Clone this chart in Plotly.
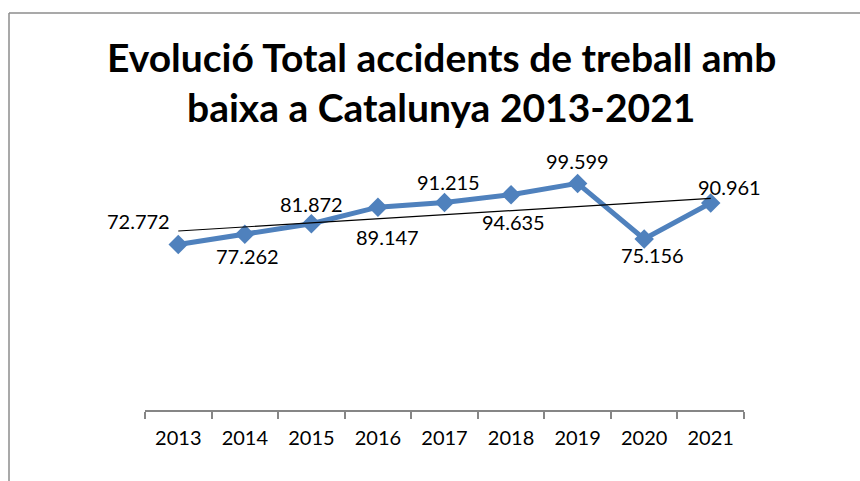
import numpy as np
import plotly.graph_objects as go

years = ["2013", "2014", "2015", "2016", "2017", "2018", "2019", "2020", "2021"]
values = [72.772, 77.262, 81.872, 89.147, 91.215, 94.635, 99.599, 75.156, 90.961]
labels = ["72.772", "77.262", "81.872", "89.147", "91.215", "94.635", "99.599", "75.156", "90.961"]
title_lines = ["Evolució Total accidents de treball amb", "baixa a Catalunya 2013-2021"]

W, H = 860, 481
L, R, T, B = 145, 744, 137, 410  # plot area in pixels


def px(x):
    return (x - L) / (R - L)


def py(y):
    return (B - y) / (B - T)


idx = np.arange(len(values))
slope, intercept = np.polyfit(idx, values, 1)
trend = slope * idx + intercept

fig = go.Figure()
fig.add_trace(go.Scatter(
    x=years, y=values, mode="lines+markers",
    line=dict(color="#4F81BD", width=5),
    marker=dict(symbol="diamond", size=15, color="#4F81BD"),
    hoverinfo="skip", showlegend=False, cliponaxis=False,
))
fig.add_trace(go.Scatter(
    x=[years[0], years[-1]], y=[trend[0], trend[-1]], mode="lines",
    line=dict(color="black", width=1.2),
    hoverinfo="skip", showlegend=False,
))

shifts = [(-40, 23), (3, -22), (0, 20), (10, -30), (4, 20), (2, -27), (0, 22), (8, -16), (19, 16)]
annotations = []
for i, (v, lab, (dx, dy)) in enumerate(zip(values, labels, shifts)):
    annotations.append(dict(
        x=i, y=v, xref="x", yref="y", text=lab, showarrow=False,
        xshift=dx, yshift=dy, font=dict(family="Lato", size=20, color="black"),
    ))

for line, yc in zip(title_lines, [57, 107]):
    annotations.append(dict(
        x=px(441), y=py(yc), xref="paper", yref="paper", text="<b>%s</b>" % line,
        showarrow=False, xanchor="center", yanchor="middle",
        font=dict(family="Lato", size=39, color="black"),
    ))

shapes = [
    dict(type="line", xref="paper", yref="paper", x0=px(9), x1=px(862), y0=py(13), y1=py(13),
         line=dict(color="#8C8C8C", width=1.5)),
    dict(type="line", xref="paper", yref="paper", x0=px(9), x1=px(9), y0=py(13), y1=py(483),
         line=dict(color="#8C8C8C", width=1.5)),
]

fig.update_layout(
    width=W, height=H,
    margin=dict(l=L, r=W - R, t=T, b=H - B),
    paper_bgcolor="white", plot_bgcolor="white",
    annotations=annotations, shapes=shapes,
    xaxis=dict(
        type="category", range=[-0.5, 8.5], showgrid=False, zeroline=False,
        showline=True, linecolor="#868686", linewidth=1.5,
        ticks="outside", tickson="boundaries", ticklen=7, tickcolor="#868686", tickwidth=1.5,
        tickfont=dict(family="Lato", size=20, color="black"), ticklabelstandoff=9,
    ),
    yaxis=dict(range=[0, 120], visible=False),
)

fig.write_html(
    "out.html",
    config={"displayModeBar": False},
    post_script="document.body.style.margin='0';document.body.style.overflow='hidden';",
)
